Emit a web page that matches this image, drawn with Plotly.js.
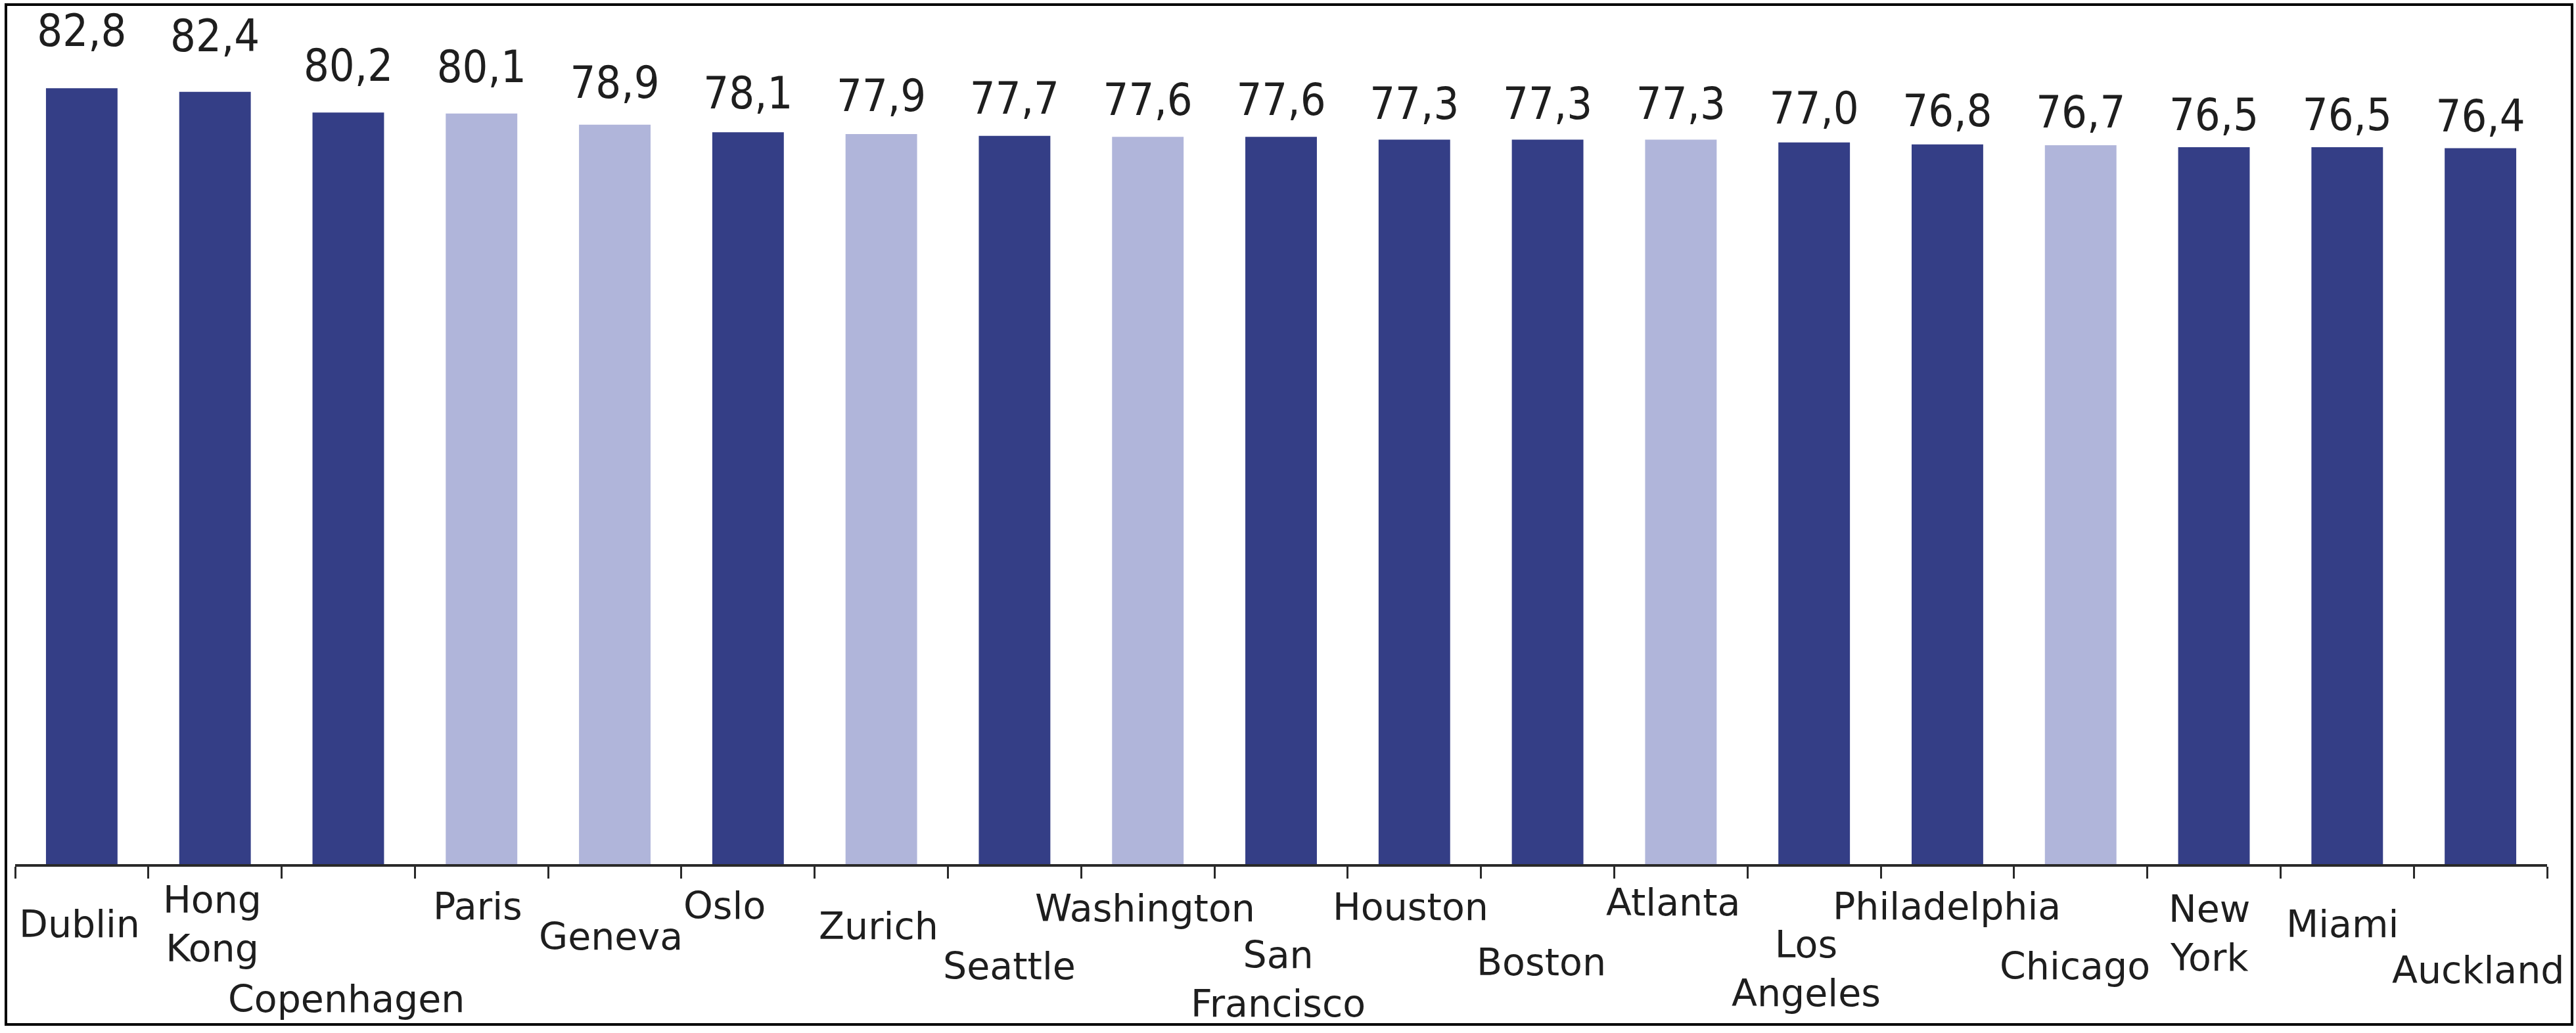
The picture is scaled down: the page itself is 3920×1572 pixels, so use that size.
<!DOCTYPE html>
<html>
<head>
<meta charset="utf-8">
<script src="https://cdn.plot.ly/plotly-3.0.1.min.js"></script>
<style>
  html, body { margin: 0; padding: 0; background: #fff; }
  #wrap { position: relative; width: 3920px; height: 1572px; }
  #chart { position: absolute; left: 0; top: 0; width: 3920px; height: 1572px; }
  #frame { position: absolute; left: 7px; top: 5px; width: 3909px; height: 1556px;
           box-sizing: border-box; border: 4px solid #000; pointer-events: none; }
</style>
</head>
<body>
<div id="wrap">
  <div id="chart"></div>
  <div id="frame"></div>
</div>
<script>
// ---- data ----
const cities = ["Dublin", "Hong Kong", "Copenhagen", "Paris", "Geneva", "Oslo", "Zurich",
  "Seattle", "Washington", "San Francisco", "Houston", "Boston", "Atlanta", "Los Angeles",
  "Philadelphia", "Chicago", "New York", "Miami", "Auckland"];
const scores = [82.8, 82.4, 80.2, 80.1, 78.9, 78.1, 77.9, 77.7, 77.6, 77.6, 77.3, 77.3,
  77.3, 77.0, 76.8, 76.7, 76.5, 76.5, 76.4];
// 0 = dark bar, 1 = light bar
const group = [0, 0, 0, 1, 1, 0, 1, 0, 1, 0, 0, 0, 1, 0, 0, 1, 0, 0, 0];
const tickText = ["Dublin", "Hong<br>Kong", "Copenhagen", "Paris", "Geneva", "Oslo", "Zurich",
  "Seattle", "Washington", "San<br>Francisco", "Houston", "Boston", "Atlanta", "Los<br>Angeles",
  "Philadelphia", "Chicago", "New<br>York", "Miami", "Auckland"];

// ---- style (layout of the staggered category labels, in px) ----
const groupColors = ["#343E86", "#B0B5DA"];
const labelCenterY = [1406, 1406, 1520, 1379, 1425, 1378, 1409, 1470, 1382, 1490, 1380,
  1464, 1373, 1474, 1379, 1470, 1420, 1406, 1476];
const labelDx = [-3, -4, -3, -6, -6, -36, -4, -8, -4, -5, -6, -10, -11, -12, -1, -9, -7, -7, -3];

const plotTop = 40, plotBottom = 1315, plotLeft = 23, plotRight = 3876;

const fmt = v => v.toFixed(1).replace('.', ',');

const bars = {
  type: 'bar',
  x: cities,
  y: scores,
  marker: { color: group.map(g => groupColors[g]), line: { width: 0 } },
  hoverinfo: 'skip'
};

const valueLabels = {
  type: 'scatter',
  mode: 'text',
  x: cities,
  y: scores,
  yaxis: 'y2',
  text: scores.map(fmt),
  textposition: 'middle center',
  textfont: { family: 'DejaVu Sans Condensed, DejaVu Sans', stretch: 'condensed', size: 68, color: '#1e1e1e' },
  cliponaxis: false,
  hoverinfo: 'skip'
};

const annotations = cities.map((c, i) => ({
  xref: 'x', yref: 'paper',
  x: c, y: 0,
  yanchor: 'middle', xanchor: 'center',
  yshift: -(labelCenterY[i] - plotBottom),
  xshift: labelDx[i],
  text: tickText[i],
  showarrow: false,
  align: 'center',
  font: { family: 'DejaVu Sans, Verdana, sans-serif', size: 57, color: '#1e1e1e' }
}));

const layout = {
  width: 3920, height: 1572,
  margin: { l: plotLeft, r: 3920 - plotRight, t: plotTop, b: 1572 - plotBottom, pad: 0 },
  paper_bgcolor: '#ffffff', plot_bgcolor: '#ffffff',
  showlegend: false,
  bargap: 0.463,
  xaxis: {
    type: 'category',
    range: [-0.5, cities.length - 0.5],
    showticklabels: false,
    ticks: 'outside', tickson: 'boundaries', ticklen: 18, tickwidth: 3, tickcolor: '#2a2a2a',
    showline: true, linecolor: '#2a2a2a', linewidth: 4,
    showgrid: false, zeroline: false, fixedrange: true
  },
  yaxis: {
    range: [0, 89.4],
    visible: false, showgrid: false, zeroline: false, fixedrange: true
  },
  yaxis2: {
    overlaying: 'y',
    range: [20.62, 83.43],
    visible: false, showgrid: false, zeroline: false, fixedrange: true
  },
  annotations: annotations
};

Plotly.newPlot('chart', [bars, valueLabels], layout, { staticPlot: true, displayModeBar: false });
</script>
</body>
</html>
